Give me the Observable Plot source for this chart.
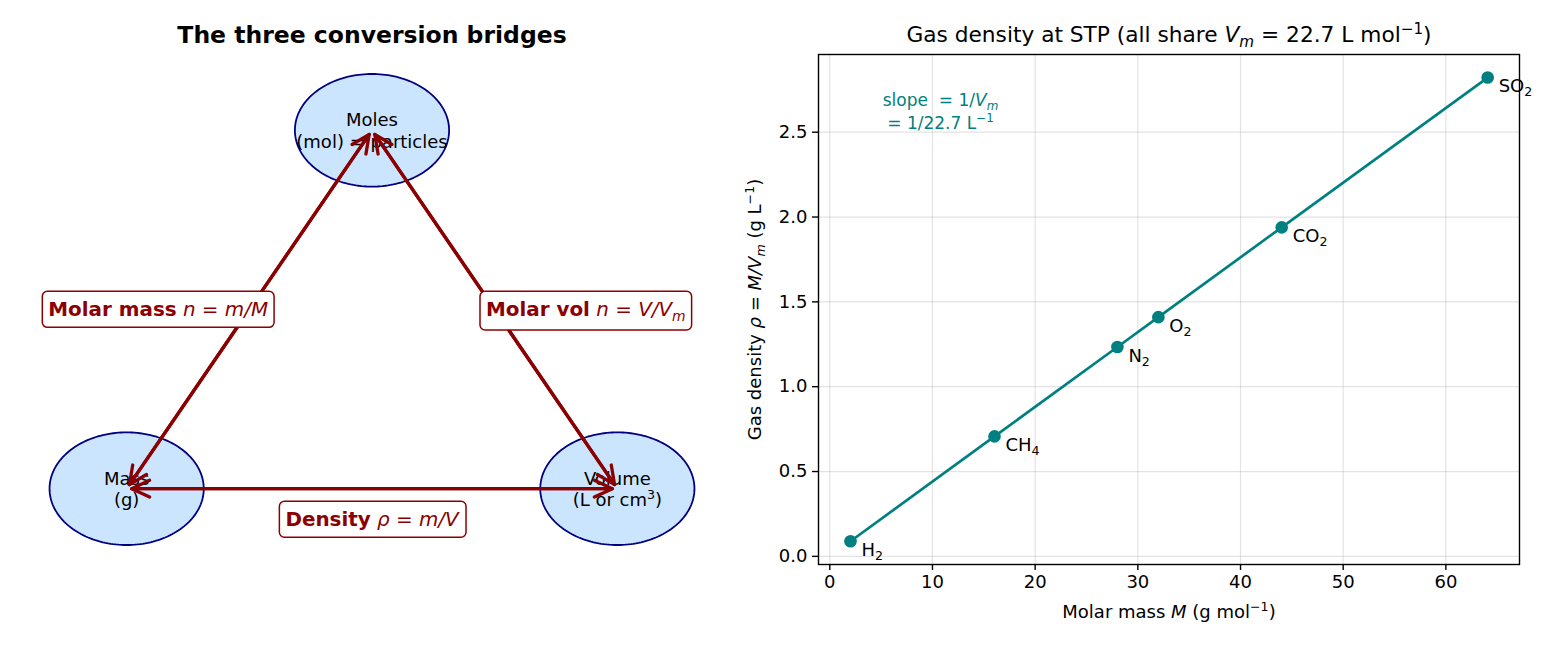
<!DOCTYPE html>
<html><head><meta charset="utf-8">
<script src="https://cdn.jsdelivr.net/npm/d3@7"></script>
<script src="https://cdn.jsdelivr.net/npm/@observablehq/plot@0.6"></script>
<style>
body{margin:0;background:#fff;}
#wrap{position:relative;width:1560px;height:650px;background:#fff;}
#left{position:absolute;left:0;top:0;}
#right{position:absolute;left:740px;top:0;}
</style></head><body><div id="wrap"><div id="left"></div><div id="right"></div></div>
<script>
// ---------- Left panel: the three conversion bridges ----------
const leftTitle = "The three conversion bridges";
const nodeLabels = ["Moles\n(mol) = particles", "Mass\n(g)", "Volume\n(L or cm^{3})"];
const nodeX = [5, 1.5, 8.5];
const nodeY = [8.5, 1.5, 1.5];
const nodeRadius = 1.1;
const bridgeFrom = [1, 0, 1];
const bridgeTo = [0, 2, 2];
const bridgeLabels = ["**Molar mass** *n = m/M*", "**Molar vol** *n = V/V_{m}*", "**Density** *ρ = m/V*"];
const bridgeLabelX = [1.95, 8.05, 5];
const bridgeLabelY = [5, 5, 0.9];

// ---------- Right panel: gas density at STP ----------
const rightTitle = "Gas density at STP (all share *V_{m}* = 22.7 L mol^{−1})";
const gases = ["H_{2}", "CH_{4}", "N_{2}", "O_{2}", "CO_{2}", "SO_{2}"];
const molarMass = [2.016, 16.04, 28.01, 32.00, 44.01, 64.07];
const gasDensity = [0.089, 0.707, 1.234, 1.410, 1.939, 2.822];
const xTicks = [0, 10, 20, 30, 40, 50, 60];
const yTicks = [0, 0.5, 1.0, 1.5, 2.0, 2.5];
const xLabel = "Molar mass *M* (g mol^{−1})";
const yLabel = "Gas density *ρ = M/V_{m}* (g L^{−1})";
const slopeNote = "slope  = 1/*V_{m}*\n= 1/22.7 L^{−1}";

// ---------- build tables ----------
const nodes = nodeLabels.map((label, i) => ({label, x: nodeX[i], y: nodeY[i]}));
const ellipsePts = [];
nodes.forEach((n, i) => {
  for (let k = 0; k < 180; k++) {
    const t = 2 * Math.PI * k / 180;
    ellipsePts.push({node: i, x: n.x + nodeRadius * Math.cos(t), y: n.y + nodeRadius * Math.sin(t)});
  }
});
const bridges = bridgeLabels.map((label, i) => ({
  label,
  x1: nodeX[bridgeFrom[i]], y1: nodeY[bridgeFrom[i]],
  x2: nodeX[bridgeTo[i]], y2: nodeY[bridgeTo[i]],
  lx: bridgeLabelX[i], ly: bridgeLabelY[i]
}));
const gasData = gases.map((name, i) => ({name, M: molarMass[i], rho: gasDensity[i]}));

const FONT = '"DejaVu Sans", sans-serif';
const RED = "#8b0000";
const TEAL = "#008080";

const arrowStyle = {stroke: RED, strokeWidth: 3.3, headLength: 9, headAngle: 50, insetStart: 5, insetEnd: 5, strokeLinejoin: "miter"};

const left = Plot.plot({
  width: 740, height: 650,
  marginLeft: 21, marginRight: 18, marginTop: 53, marginBottom: 85,
  x: {domain: [0, 10], axis: null},
  y: {domain: [0, 10], axis: null},
  style: {fontFamily: FONT, background: "white", color: "black"},
  marks: [
    Plot.line(ellipsePts, {x: "x", y: "y", z: "node", curve: "linear-closed", fill: "#cce5ff", stroke: "#000080", strokeWidth: 1.8}),
    Plot.text(nodes, {x: "x", y: "y", text: "label", fontSize: 18, lineHeight: 1.2, fill: "black"}),
    Plot.arrow(bridges, {x1: "x1", y1: "y1", x2: "x2", y2: "y2", ...arrowStyle}),
    Plot.arrow(bridges, {x1: "x2", y1: "y2", x2: "x1", y2: "y1", ...arrowStyle}),
    Plot.text(bridges, {x: "lx", y: "ly", text: "label", fontSize: 19.9, fill: RED, ariaDescription: "bridge-label"}),
    Plot.text([leftTitle], {text: d => d, frameAnchor: "top", dy: -18, lineAnchor: "middle", fontSize: 23.5, fontWeight: "bold", fill: "black"})
  ]
});

const right = Plot.plot({
  width: 820, height: 650,
  marginLeft: 78, marginRight: 41, marginTop: 54, marginBottom: 86,
  x: {domain: [-1.1, 67.17]},
  y: {domain: [-0.048, 2.958]},
  style: {fontFamily: FONT, background: "white", color: "black"},
  marks: [
    Plot.gridX(xTicks, {stroke: "#b0b0b0", strokeOpacity: 0.35, strokeWidth: 1.2}),
    Plot.gridY(yTicks, {stroke: "#b0b0b0", strokeOpacity: 0.35, strokeWidth: 1.2}),
    Plot.line(gasData, {x: "M", y: "rho", stroke: TEAL, strokeWidth: 2.7}),
    Plot.dot(gasData, {x: "M", y: "rho", r: 6.3, fill: TEAL}),
    Plot.text(gasData, {x: "M", y: "rho", text: "name", textAnchor: "start", dx: 11, dy: 9, fontSize: 18, fill: "black"}),
    Plot.text([slopeNote], {text: d => d, frameAnchor: "top-left", dx: 122, dy: 56, textAnchor: "middle", lineAnchor: "middle", fill: TEAL, fontSize: 17, lineHeight: 1.35}),
    Plot.frame({stroke: "black", strokeWidth: 1.4}),
    Plot.axisX(xTicks, {tickSize: 6, tickPadding: 5, fontSize: 18, label: null, strokeWidth: 1.4}),
    Plot.axisY(yTicks, {tickSize: 6, tickPadding: 5, fontSize: 18, label: null, strokeWidth: 1.4, tickFormat: d3.format(".1f")}),
    Plot.text([xLabel], {text: d => d, frameAnchor: "bottom", dy: 48, lineAnchor: "middle", fontSize: 18, fill: "black"}),
    Plot.text([yLabel], {text: d => d, frameAnchor: "left", dx: -63, rotate: -90, lineAnchor: "middle", textAnchor: "middle", fontSize: 18, fill: "black"}),
    Plot.text([rightTitle], {text: d => d, frameAnchor: "top", dy: -19, lineAnchor: "middle", fontSize: 21.7, fill: "black"})
  ]
});

document.getElementById("left").appendChild(left);
document.getElementById("right").appendChild(right);

// ---------- light markup: **bold**, *italic*, _{sub}, ^{sup} ----------
const SVGNS = "http://www.w3.org/2000/svg";
function rich(el) {
  const s = el.textContent;
  if (!/\*|_\{|\^\{/.test(s)) return;
  while (el.firstChild) el.removeChild(el.firstChild);
  const parts = s.split(/(\*\*|\*|_\{[^}]*\}|\^\{[^}]*\})/);
  let bold = false, ital = false;
  for (const p of parts) {
    if (!p) continue;
    if (p === "**") { bold = !bold; continue; }
    if (p === "*") { ital = !ital; continue; }
    const ts = document.createElementNS(SVGNS, "tspan");
    let txt = p;
    if (p.startsWith("_{")) {
      txt = p.slice(2, -1);
      ts.setAttribute("font-size", "70%");
      ts.style.baselineShift = "-0.33em";
    } else if (p.startsWith("^{")) {
      txt = p.slice(2, -1);
      ts.setAttribute("font-size", "70%");
      ts.style.baselineShift = "0.55em";
    }
    ts.setAttribute("font-weight", bold ? "bold" : "normal");
    if (ital) ts.setAttribute("font-style", "italic");
    ts.textContent = txt;
    el.appendChild(ts);
  }
}
for (const svg of [left, right]) {
  svg.querySelectorAll("text").forEach(t => {
    const lines = t.querySelectorAll(":scope > tspan");
    if (lines.length) lines.forEach(rich); else rich(t);
  });
}

// ---------- rounded boxes behind the bridge labels ----------
left.querySelectorAll('g[aria-description="bridge-label"] text').forEach(t => {
  const b = t.getBBox();
  const padX = 6, padY = 6.5;
  const r = document.createElementNS(SVGNS, "rect");
  r.setAttribute("x", b.x - padX);
  r.setAttribute("y", b.y - padY);
  r.setAttribute("width", b.width + 2 * padX);
  r.setAttribute("height", b.height + 2 * padY);
  r.setAttribute("rx", 5);
  r.setAttribute("fill", "white");
  r.setAttribute("stroke", RED);
  r.setAttribute("stroke-width", 1.5);
  const tr = t.getAttribute("transform");
  if (tr) r.setAttribute("transform", tr);
  t.parentNode.insertBefore(r, t);
});
</script></body></html>
